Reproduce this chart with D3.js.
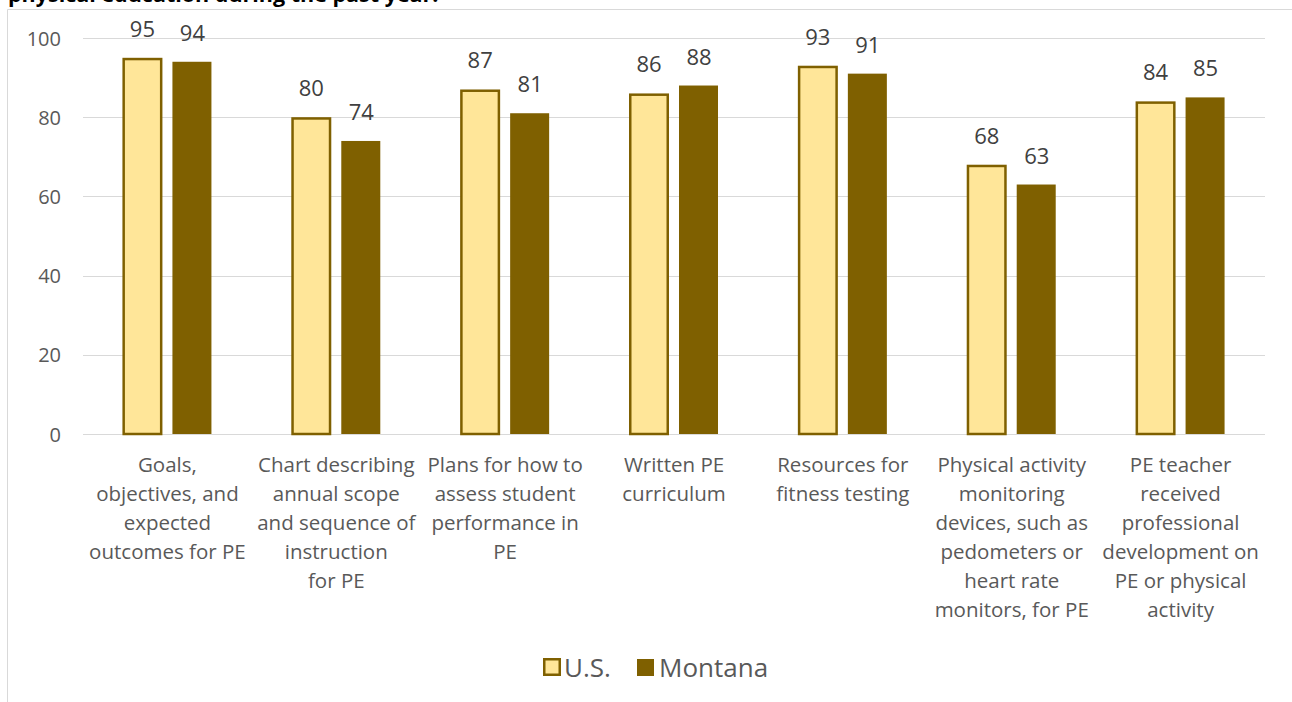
<!DOCTYPE html>
<html><head><meta charset="utf-8">
<script src="https://cdn.jsdelivr.net/npm/d3@7"></script>
<style>body{margin:0;background:#fff;} svg{display:block;font-family:"Open Sans", sans-serif;}</style>
</head><body>
<svg id="c" width="1292" height="702"></svg>
<script>
const categories = [
  ["Goals,","objectives, and","expected","outcomes for PE"],
  ["Chart describing","annual scope","and sequence of","instruction","for PE"],
  ["Plans for how to","assess student","performance in","PE"],
  ["Written PE","curriculum"],
  ["Resources for","fitness testing"],
  ["Physical activity","monitoring","devices, such as","pedometers or","heart rate","monitors, for PE"],
  ["PE teacher","received","professional","development on","PE or physical","activity"]
];
const seriesNames = ["U.S.","Montana"];
const usValues = [95,80,87,86,93,68,84];
const mtValues = [94,74,81,88,91,63,85];
const yTicks = [0,20,40,60,80,100];
const title = "physical education during the past year:";

(function(){
const svg = d3.select("#c");
const pL=83, pR=1265, pT=38, pB=434;
const x = d3.scaleBand().domain(d3.range(categories.length)).range([pL,pR]);
const y = d3.scaleLinear().domain([0,100]).range([pB,pT]);

svg.append("path").attr("d","M7.5,702 V9.5 H1292").attr("fill","none").attr("stroke","#d9d9d9").attr("stroke-width",1);
svg.append("text").attr("x",8).attr("y",1.5).attr("font-weight","bold").attr("font-size",21.5).attr("fill","#000").text(title);

svg.append("g").selectAll("line").data(yTicks).join("line")
  .attr("x1",pL).attr("x2",pR).attr("y1",d=>Math.round(y(d))+0.5).attr("y2",d=>Math.round(y(d))+0.5)
  .attr("stroke","#d9d9d9").attr("stroke-width",1);
const yAxis = d3.axisLeft(y).tickValues(yTicks).tickSize(0).tickPadding(0);
const ga = svg.append("g").attr("transform",`translate(61,0)`).call(yAxis);
ga.select(".domain").remove();
ga.selectAll("text").attr("font-size",20).attr("fill","#595959").attr("font-family","'Open Sans', sans-serif").attr("dy","0.35em");

const barW = 40, gap = 10;
const g = svg.append("g");
categories.forEach((c,i)=>{
  const cx = x(i)+x.bandwidth()/2;
  const usX = cx - gap/2 - barW, mtX = cx + gap/2;
  g.append("rect").attr("x",usX+1.25).attr("y",y(usValues[i])+1.25).attr("width",barW-2.5).attr("height",y(0)-y(usValues[i])-1.25)
    .attr("fill","#FFE699").attr("stroke","#7F6000").attr("stroke-width",2.5);
  g.append("rect").attr("x",mtX).attr("y",y(mtValues[i])).attr("width",barW-1).attr("height",y(0)-y(mtValues[i]))
    .attr("fill","#7F6000");
  g.append("text").attr("x",usX+barW/2).attr("y",y(usValues[i])-21).attr("text-anchor","middle")
    .attr("font-size",22).attr("fill","#404040").text(usValues[i]);
  g.append("text").attr("x",mtX+barW/2).attr("y",y(mtValues[i])-21).attr("text-anchor","middle")
    .attr("font-size",22).attr("fill","#404040").text(mtValues[i]);
  const t = g.append("text").attr("text-anchor","middle").attr("font-size",20.5).attr("fill","#595959");
  c.forEach((line,j)=>{
    t.append("tspan").attr("x",cx).attr("y",472+j*29).text(line);
  });
});

const lg = svg.append("g");
lg.append("rect").attr("x",544.25).attr("y",659.25).attr("width",15.5).attr("height",15.5).attr("fill","#FFE699").attr("stroke","#7F6000").attr("stroke-width",2.5);
lg.append("text").attr("x",564).attr("y",677).attr("font-size",26).attr("fill","#595959").text(seriesNames[0]);
lg.append("rect").attr("x",637).attr("y",659).attr("width",17).attr("height",17).attr("fill","#7F6000");
lg.append("text").attr("x",659).attr("y",677).attr("font-size",26).attr("fill","#595959").text(seriesNames[1]);
})();
</script>
</body></html>
